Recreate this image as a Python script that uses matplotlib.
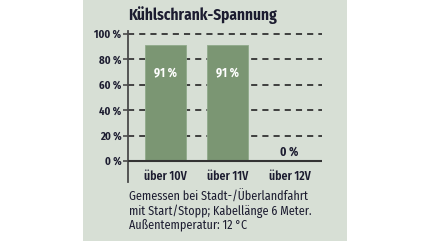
import matplotlib
matplotlib.use("Agg")
import matplotlib.pyplot as plt
from matplotlib.patches import Rectangle

categories = ["über 10V", "über 11V", "über 12V"]
values = [91, 91, 0]
value_labels = ["91 %", "91 %", "0 %"]
yticks = [0, 20, 40, 60, 80, 100]
ytick_labels = ["0 %", "20 %", "40 %", "60 %", "80 %", "100 %"]
title = "Kühlschrank-Spannung"
footer = ["Gemessen bei Stadt-/Überlandfahrt",
          "mit Start/Stopp; Kabellänge 6 Meter.",
          "Außentemperatur: 12 °C"]

plt.rcParams['font.family'] = ['Fira Sans Condensed', 'Liberation Sans Narrow', 'DejaVu Sans']

W, H = 430, 241
dpi = 100
fig = plt.figure(figsize=(W / dpi, H / dpi), dpi=dpi)
fig.patch.set_facecolor('white')

bg = '#d7dfd5'
txt = '#1c1c30'
barc = '#7b9673'
fig.patches.append(Rectangle((83 / W, 0), (347 - 83) / W, 1, transform=fig.transFigure,
                             facecolor=bg, edgecolor='none', zorder=-10))

def px(x0, y0, x1, y1):
    return [x0 / W, 1 - y1 / H, (x1 - x0) / W, (y1 - y0) / H]

ax = fig.add_axes(px(128, 31, 322, 182))
ax.set_facecolor('none')
ax.set_ylim(-16.5, 102.4)
ax.set_xlim(-0.605, 2.524)

for s in ['top', 'right', 'bottom']:
    ax.spines[s].set_visible(False)
ax.spines['left'].set_color('#4a4a4a')
ax.spines['left'].set_linewidth(1.3)

for v in yticks[1:]:
    ax.axhline(v, color='#333333', lw=1.3, ls=(0, (3.4, 2.8)), zorder=1)
ax.axhline(0, color='#333333', lw=1.5, zorder=3)

xs = list(range(len(categories)))
ax.bar(xs, values, width=0.66, color=barc, edgecolor='#90aa8a', linewidth=0.6, zorder=2)

for x, v, lab in zip(xs, values, value_labels):
    if v > 10:
        ax.text(x, v - 21.7, lab, ha='center', va='center', color='white',
                fontsize=8.5, fontweight='bold', zorder=4)
    else:
        ax.text(x, v + 7.3, lab, ha='center', va='center', color=txt,
                fontsize=8.5, fontweight='bold', zorder=4)

ax.set_yticks(yticks)
ax.set_yticklabels(ytick_labels, fontsize=7.8, fontweight='bold', color=txt)
ax.tick_params(axis='y', direction='inout', length=6.5, width=1.2, color='#4a4a4a', pad=1.5)
ax.set_xticks(xs)
ax.set_xticklabels(categories, fontsize=8.5, color=txt, fontweight='semibold')
for lbl in ax.get_xticklabels():
    lbl.set_verticalalignment('center')
ax.tick_params(axis='x', length=0, pad=-4.3)

fig.text(128 / W, 1 - 15 / H, title, fontsize=11, fontweight='bold', color=txt,
         ha='left', va='center')
for i, line in enumerate(footer):
    fig.text(129 / W, 1 - (197 + 14 * i) / H, line, fontsize=8.7, color=txt,
             ha='left', va='center')

fig.savefig('out.png', dpi=dpi)
